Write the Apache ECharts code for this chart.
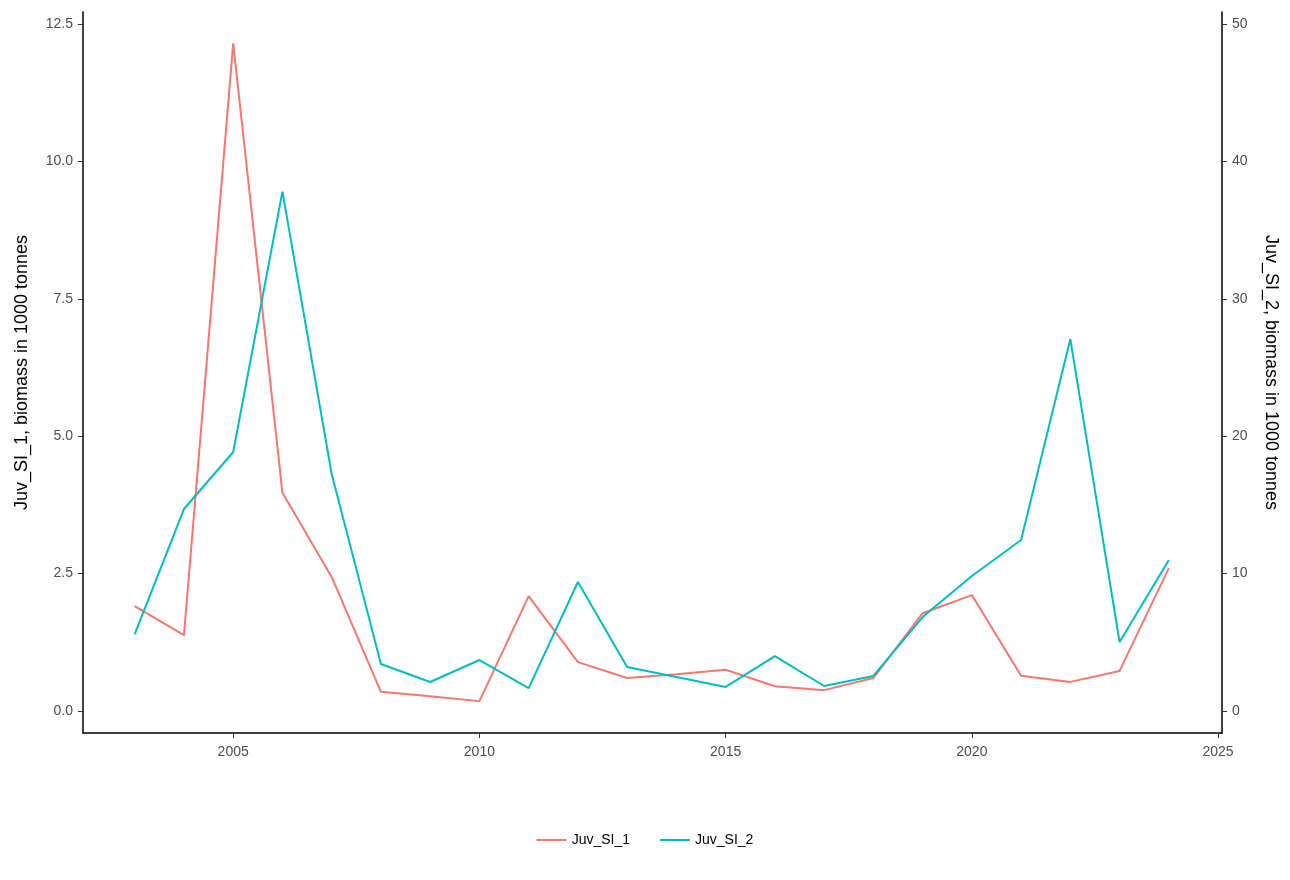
<!DOCTYPE html>
<html><head><meta charset="utf-8">
<script src="https://cdn.jsdelivr.net/npm/echarts@6/dist/echarts.min.js"></script>
<style>html,body{margin:0;background:#fff}#c{width:1290px;height:880px}</style></head>
<body><div id="c"></div>
<script>
const years = [2003,2004,2005,2006,2007,2008,2009,2010,2011,2012,2013,2014,2015,2016,2017,2018,2019,2020,2021,2022,2023,2024];
const juv1 = [1.91,1.38,12.15,3.97,2.44,0.35,0.27,0.18,2.09,0.89,0.60,0.67,0.75,0.45,0.38,0.60,1.78,2.11,0.64,0.53,0.73,2.60];
const juv2 = [5.6,14.7,18.85,37.8,17.25,3.42,2.11,3.71,1.67,9.39,3.2,2.47,1.75,4.0,1.82,2.55,6.84,9.83,12.45,27.07,5.02,10.99];
const xTicks = [2005,2010,2015,2020,2025];
const y1Ticks = [0,2.5,5,7.5,10,12.5];
const y2Ticks = [0,10,20,30,40,50];
const lab = {color:'#4d4d4d',fontSize:14,fontFamily:'Arial, Liberation Sans'};
const axLine = {show:true,onZero:false,lineStyle:{color:'#000',width:1.5}};
const tick = {show:true,length:5,lineStyle:{color:'#333'}};
const chart = echarts.init(document.getElementById('c'));
chart.setOption({
  animation:false,
  grid:{left:83,right:68,top:12,bottom:147},
  legend:{bottom:28,left:'center',itemWidth:30,itemGap:30,icon:'path://M0,0H30V2H0Z',
    textStyle:{fontSize:14,color:'#000',fontFamily:'Arial, Liberation Sans'},
    data:['Juv_SI_1','Juv_SI_2']},
  xAxis:{type:'value',min:2001.95,max:2025.08,axisLine:axLine,splitLine:{show:false},
    axisTick:Object.assign({customValues:xTicks},tick),
    axisLabel:Object.assign({customValues:xTicks,margin:12,formatter:v=>String(v)},lab)},
  yAxis:[
    {type:'value',min:-0.40,max:12.72,position:'left',axisLine:axLine,splitLine:{show:false},
     axisTick:Object.assign({customValues:y1Ticks},tick),
     axisLabel:Object.assign({customValues:y1Ticks,margin:10,formatter:v=>v.toFixed(1)},lab),
     name:'Juv_SI_1, biomass in 1000 tonnes',nameLocation:'middle',nameGap:52,
     nameTextStyle:{fontSize:18,color:'#000',fontFamily:'Arial, Liberation Sans'}},
    {type:'value',min:-1.6,max:50.87,position:'right',axisLine:axLine,splitLine:{show:false},
     axisTick:Object.assign({customValues:y2Ticks},tick),
     axisLabel:Object.assign({customValues:y2Ticks,margin:10,formatter:v=>String(v)},lab),
     name:'Juv_SI_2, biomass in 1000 tonnes',nameLocation:'middle',nameGap:40,nameRotate:-90,
     nameTextStyle:{fontSize:18,color:'#000',fontFamily:'Arial, Liberation Sans'}}
  ],
  series:[
    {name:'Juv_SI_1',type:'line',yAxisIndex:0,showSymbol:false,color:'#F8766D',lineStyle:{width:2},
     data:years.map((y,i)=>[y,juv1[i]])},
    {name:'Juv_SI_2',type:'line',yAxisIndex:1,showSymbol:false,color:'#00BFC4',lineStyle:{width:2},
     data:years.map((y,i)=>[y,juv2[i]])}
  ]
});
</script></body></html>
